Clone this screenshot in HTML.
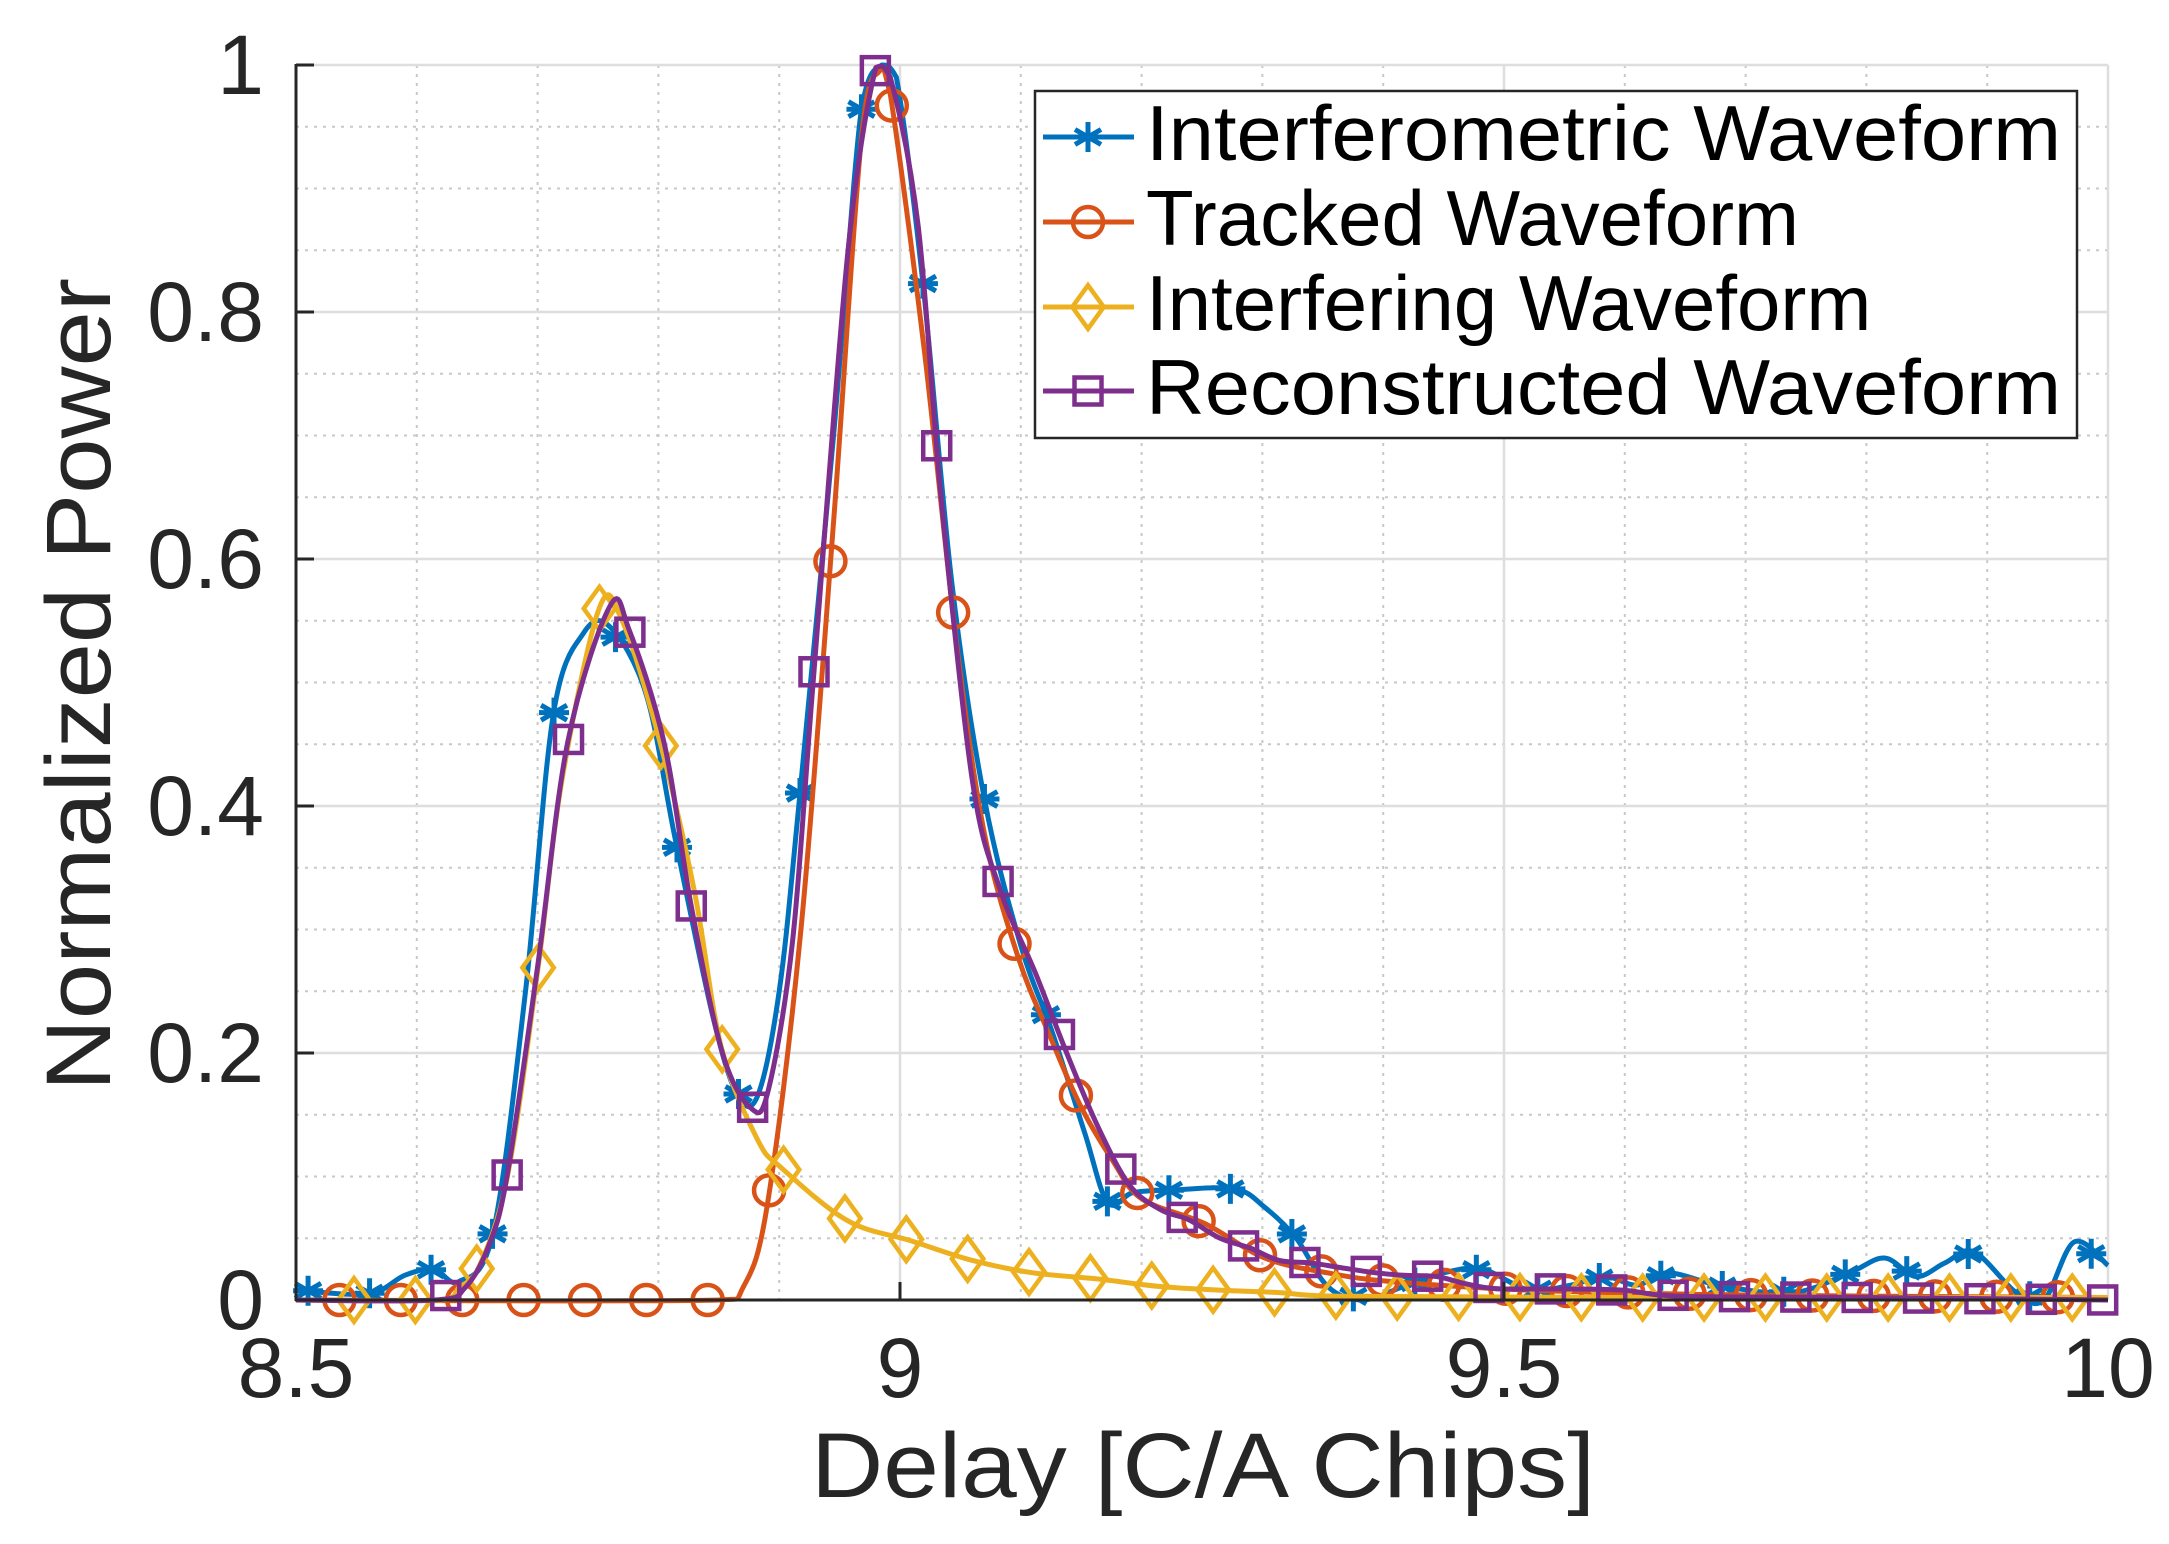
<!DOCTYPE html>
<html><head><meta charset="utf-8"><style>
html,body{margin:0;padding:0;background:#fff;}
svg{display:block;}
text{font-family:"Liberation Sans",Arial,sans-serif;fill:#262626;}
</style></head><body>
<svg id="s" width="2169" height="1544" viewBox="0 0 2169 1544" xmlns="http://www.w3.org/2000/svg">
<g id="grid"></g>
<g id="series"></g>
<g id="axes"></g>
<text x="264" y="1300" font-size="84" text-anchor="end" dominant-baseline="central">0</text>
<text x="264" y="1053" font-size="84" text-anchor="end" dominant-baseline="central">0.2</text>
<text x="264" y="806" font-size="84" text-anchor="end" dominant-baseline="central">0.4</text>
<text x="264" y="559" font-size="84" text-anchor="end" dominant-baseline="central">0.6</text>
<text x="264" y="312" font-size="84" text-anchor="end" dominant-baseline="central">0.8</text>
<text x="264" y="65" font-size="84" text-anchor="end" dominant-baseline="central">1</text>
<text x="296" y="1397" font-size="84" text-anchor="middle">8.5</text>
<text x="900" y="1397" font-size="84" text-anchor="middle">9</text>
<text x="1504" y="1397" font-size="84" text-anchor="middle">9.5</text>
<text x="2108" y="1397" font-size="84" text-anchor="middle">10</text>
<text x="811" y="1497" font-size="92" textLength="784" lengthAdjust="spacingAndGlyphs">Delay [C/A Chips]</text>
<text transform="translate(110,1091) rotate(-90)" font-size="92" textLength="813" lengthAdjust="spacingAndGlyphs">Normalized Power</text>
<g id="legend">
<rect x="1035" y="91" width="1042" height="347" fill="#fff" stroke="#262626" stroke-width="2.5"/>
<text x="1146" y="160" font-size="78" textLength="915" lengthAdjust="spacingAndGlyphs" style="fill:#000">Interferometric Waveform</text>
<text x="1146" y="245" font-size="78" style="fill:#000">Tracked Waveform</text>
<text x="1146" y="330" font-size="78" style="fill:#000">Interfering Waveform</text>
<text x="1146" y="414" font-size="78" textLength="915" lengthAdjust="spacingAndGlyphs" style="fill:#000">Reconstructed Waveform</text>
</g>
</svg>
<script>
var NS="http://www.w3.org/2000/svg";
function X(x){return 296+(x-8.5)*1208;}
function Y(y){return 1300-y*1235;}
function el(p,t,a){var e=document.createElementNS(NS,t);for(var k in a)e.setAttribute(k,a[k]);p.appendChild(e);return e;}
var g=document.getElementById('grid');
for(var i=1;i<15;i++){var x=X(8.5+i*0.1);if(i%5)el(g,'line',{x1:x,x2:x,y1:65,y2:1300,stroke:'#c8c8c8','stroke-width':2,'stroke-dasharray':'3 6'});}
for(var i=1;i<20;i++){var y=Y(i*0.05);if(i%4)el(g,'line',{x1:296,x2:2108,y1:y,y2:y,stroke:'#c8c8c8','stroke-width':2,'stroke-dasharray':'3 6'});}
[9,9.5,10].forEach(function(v){el(g,'line',{x1:X(v),x2:X(v),y1:65,y2:1300,stroke:'#dedede','stroke-width':2.5});});
[0.2,0.4,0.6,0.8,1].forEach(function(v){el(g,'line',{x1:296,x2:2108,y1:Y(v),y2:Y(v),stroke:'#dedede','stroke-width':2.5});});
var a=document.getElementById('axes');
el(a,'line',{x1:296,x2:296,y1:64,y2:1301,stroke:'#262626','stroke-width':3});
el(a,'line',{x1:295,x2:2108,y1:1300,y2:1300,stroke:'#262626','stroke-width':3});
for(var i=0;i<=5;i++)el(a,'line',{x1:296,x2:314,y1:Y(i*0.2),y2:Y(i*0.2),stroke:'#262626','stroke-width':3});
[9,9.5].forEach(function(v){el(a,'line',{x1:X(v),x2:X(v),y1:1300,y2:1282,stroke:'#262626','stroke-width':3});});

var blue=[[8.5,0.008],[8.56,0.005],[8.59,0.02],[8.614,0.025],[8.635,0.015],[8.663,0.054],[8.69,0.25],[8.713,0.474],[8.738,0.54],[8.76,0.545],[8.79,0.49],[8.814,0.373],[8.845,0.23],[8.865,0.167],[8.882,0.165],[8.9,0.25],[8.916,0.398],[8.945,0.7],[8.968,0.964],[8.985,1.0],[8.997,0.99],[9.019,0.823],[9.043,0.58],[9.07,0.405],[9.1,0.287],[9.126,0.217],[9.153,0.135],[9.172,0.079],[9.193,0.087],[9.225,0.089],[9.277,0.09],[9.302,0.075],[9.328,0.05],[9.354,0.011],[9.383,0.0],[9.417,0.011],[9.45,0.022],[9.482,0.025],[9.521,0.008],[9.555,0.012],[9.584,0.019],[9.61,0.012],[9.636,0.022],[9.682,0.011],[9.74,0.006],[9.786,0.022],[9.815,0.034],[9.841,0.019],[9.865,0.03],[9.889,0.039],[9.924,0.006],[9.947,0.0],[9.972,0.047],[10,0.028]];
var orange=[[8.5,0],[8.85,0],[8.87,0.01],[8.89,0.076],[8.918,0.3],[8.945,0.63],[8.968,0.94],[8.983,0.995],[8.992,0.976],[9.02,0.77],[9.047,0.53],[9.07,0.377],[9.098,0.277],[9.124,0.214],[9.149,0.158],[9.176,0.113],[9.2,0.082],[9.252,0.062],[9.302,0.034],[9.354,0.022],[9.406,0.015],[9.52,0.008],[9.7,0.004],[10,0.002]];
var yellow=[[8.5,0],[8.62,0],[8.635,0.01],[8.652,0.028],[8.675,0.1],[8.7,0.266],[8.72,0.42],[8.751,0.56],[8.77,0.55],[8.801,0.453],[8.83,0.33],[8.852,0.205],[8.882,0.13],[8.903,0.106],[8.957,0.064],[9.009,0.048],[9.06,0.032],[9.11,0.022],[9.164,0.017],[9.214,0.011],[9.264,0.008],[9.314,0.006],[9.37,0.003],[9.6,0.002],[10,0.002]];
var purple=[[8.5,0],[8.615,0],[8.64,0.01],[8.66,0.045],[8.675,0.102],[8.7,0.27],[8.725,0.452],[8.76,0.562],[8.776,0.542],[8.805,0.45],[8.827,0.32],[8.853,0.2],[8.877,0.155],[8.891,0.17],[8.911,0.29],[8.928,0.499],[8.957,0.85],[8.98,0.998],[8.992,0.99],[9.015,0.87],[9.034,0.65],[9.06,0.42],[9.083,0.332],[9.112,0.265],[9.138,0.2],[9.164,0.14],[9.19,0.093],[9.216,0.073],[9.239,0.065],[9.265,0.05],[9.29,0.042],[9.314,0.032],[9.34,0.03],[9.366,0.026],[9.394,0.022],[9.417,0.02],[9.444,0.019],[9.469,0.013],[9.495,0.009],[9.544,0.009],[9.598,0.008],[9.648,0.003],[9.8,0.002],[10,0.0]];
function path(d){var p=d.map(function(q){return [X(q[0]),Y(q[1])];});var s='M'+p[0][0]+','+p[0][1];
for(var i=0;i<p.length-1;i++){var p0=p[i-1]||p[i],p1=p[i],p2=p[i+1],p3=p[i+2]||p2;
var c1=[p1[0]+(p2[0]-p0[0])/6,p1[1]+(p2[1]-p0[1])/6],c2=[p2[0]-(p3[0]-p1[0])/6,p2[1]-(p3[1]-p1[1])/6];
c1[0]=Math.min(Math.max(c1[0],p1[0]),p2[0]);c2[0]=Math.min(Math.max(c2[0],p1[0]),p2[0]);
c1[1]=Math.max(c1[1],Y(1.0));c2[1]=Math.max(c2[1],Y(1.0));
s+='C'+c1+' '+c2+' '+p2;}return s;}
function interp(d,x){for(var i=0;i<d.length-1;i++){if(x>=d[i][0]&&x<=d[i+1][0]){var t=(x-d[i][0])/(d[i+1][0]-d[i][0]);return d[i][1]+t*(d[i+1][1]-d[i][1]);}}return d[d.length-1][1];}
var S=document.getElementById('series');
function marker(p,type,x,y,c){var r=15;
if(type=='star'){var m='';for(var k=0;k<3;k++){var an=Math.PI/2+k*Math.PI/3;m+='M'+(x-r*Math.cos(an))+','+(y-r*Math.sin(an))+'L'+(x+r*Math.cos(an))+','+(y+r*Math.sin(an));}
m+='M'+(x-r)+','+y+'L'+(x+r)+','+y;el(p,'path',{d:m,stroke:c,'stroke-width':5,fill:'none'});}
else if(type=='o')el(p,'ellipse',{cx:x,cy:y,rx:r,ry:r,stroke:c,'stroke-width':4.5,fill:'none'});
else if(type=='d')el(p,'path',{d:'M'+x+','+(y-r*1.45)+'L'+(x+r*1.05)+','+y+'L'+x+','+(y+r*1.45)+'L'+(x-r*1.05)+','+y+'Z',stroke:c,'stroke-width':4.5,fill:'none'});
else el(p,'rect',{x:x-r*0.9,y:y-r*0.9,width:r*1.8,height:r*1.8,stroke:c,'stroke-width':4.5,fill:'none'});}
var ser=[[blue,'#0072BD','star',8.51,0.0509,137],[orange,'#D95319','o',8.536,0.0508,222],[yellow,'#EDB120','d',8.548,0.0508,307],[purple,'#7E2F8E','s',8.624,0.0508,391]];
ser.forEach(function(s){el(S,'path',{d:path(s[0]),stroke:s[1],'stroke-width':5,fill:'none','stroke-linejoin':'round'});
for(var x=s[3];x<=10.001;x+=s[4]){marker(S,s[2],X(x),Y(interp(s[0],x)),s[1]);}
var L=document.getElementById('legend');
el(L,'line',{x1:1043,x2:1134,y1:s[5],y2:s[5],stroke:s[1],'stroke-width':5});
marker(L,s[2],1088,s[5],s[1]);});
</script>
</body></html>
